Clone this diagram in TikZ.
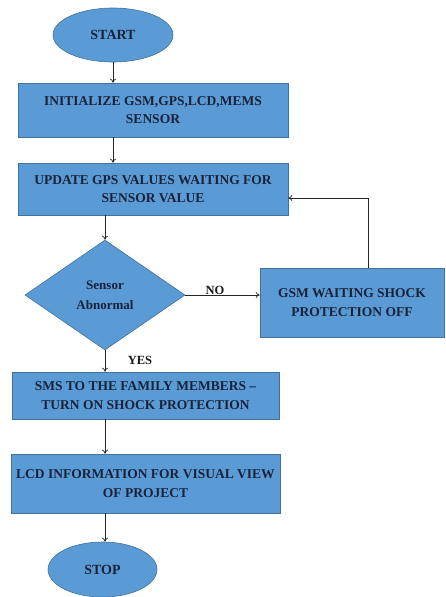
\documentclass[tikz,border=0pt]{standalone}
\usepackage{fontspec}
\setmainfont{Liberation Serif}
\usetikzlibrary{shapes.geometric,arrows.meta}
\definecolor{boxfill}{HTML}{5B9BD5}
\definecolor{boxline}{HTML}{41719C}
\definecolor{txt}{HTML}{18223A}
\begin{document}
\begin{tikzpicture}[x=1pt,y=-1pt,
  base/.style={fill=boxfill,draw=boxline,line width=0.6pt,text=txt,font=\fontsize{13.5}{18.5}\selectfont\bfseries,align=center,inner sep=0pt},
  procbox/.style={base,rectangle},
  term/.style={base,ellipse},
  decision/.style={base,diamond,aspect=1.45},
  arr/.style={-{To[length=4pt,width=6pt]},line width=0.7pt,draw=black!85},
  lbl/.style={font=\fontsize{12.5}{14}\selectfont\bfseries,text=black!90}]
\useasboundingbox (0,0) rectangle (445,597);
\node[term,minimum width=120pt,minimum height=54pt,font=\fontsize{14}{16}\selectfont\bfseries] (start) at (113,35) {START};
\node[procbox,minimum width=270pt,minimum height=54pt] (init) at (153,110) {INITIALIZE GSM,GPS,LCD,MEMS\\SENSOR};
\node[procbox,minimum width=270pt,minimum height=52pt] (update) at (153,189) {UPDATE GPS VALUES WAITING FOR\\SENSOR VALUE};
\node[decision,minimum width=160pt,minimum height=110pt,font=\fontsize{13}{20}\selectfont\bfseries] (dia) at (105,295) {Sensor\\Abnormal};
\node[procbox,minimum width=184pt,minimum height=69pt] (gsm) at (352,302.5) {GSM WAITING SHOCK\\PROTECTION OFF};
\node[procbox,minimum width=267pt,minimum height=47pt] (sms) at (145.5,395.5) {SMS TO THE FAMILY MEMBERS --\\TURN ON SHOCK PROTECTION};
\node[procbox,minimum width=269pt,minimum height=59pt] (lcd) at (145.5,483.5) {LCD INFORMATION FOR VISUAL VIEW\\OF PROJECT};
\node[term,minimum width=109pt,minimum height=55pt,font=\fontsize{14}{16}\selectfont\bfseries] (stop) at (102.5,569.5) {STOP};
\coordinate (fb) at (368,268);
\draw[arr] (start.south) -- (init.north -| start.south);
\draw[arr] (init.south -| start.south) -- (update.north -| start.south);
\draw[arr] (update.south -| dia.north) -- (dia.north);
\draw[arr] (dia.east) -- (dia.east -| gsm.west);
\draw[arr] (fb) |- ([yshift=-9pt]update.east);
\draw[arr] (dia.south) -- (sms.north -| dia.south);
\draw[arr] (sms.south -| dia.south) -- (lcd.north -| dia.south);
\draw[arr] (lcd.south -| dia.south) -- (stop.north -| dia.south);
\node[lbl] (no) at (215,290) {NO};
\node[lbl] (yes) at (140,360) {YES};
\end{tikzpicture}
\end{document}
